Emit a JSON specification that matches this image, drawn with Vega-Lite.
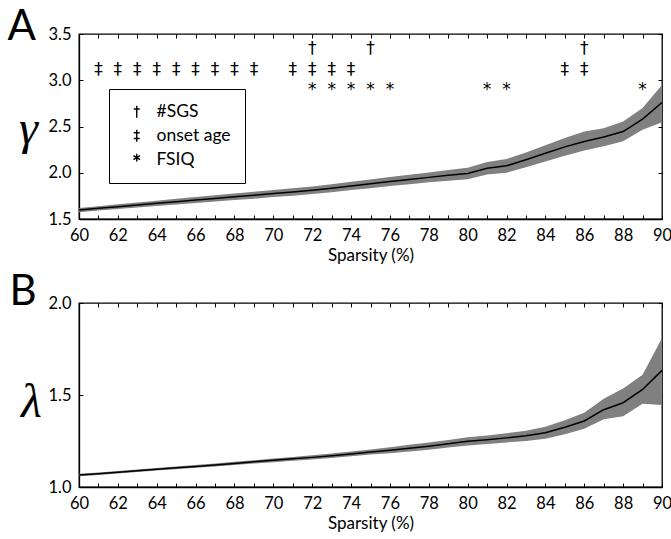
{
  "$schema": "https://vega.github.io/schema/vega-lite/v6.json",
  "padding": {"left": 6, "top": 5, "right": 2, "bottom": 5},
  "spacing": 5,
  "datasets": {
    "gamma": [
      {"x": 60, "mean": 1.597, "lo": 1.574, "hi": 1.620},
      {"x": 61, "mean": 1.615, "lo": 1.591, "hi": 1.639},
      {"x": 62, "mean": 1.633, "lo": 1.607, "hi": 1.659},
      {"x": 63, "mean": 1.651, "lo": 1.624, "hi": 1.678},
      {"x": 64, "mean": 1.669, "lo": 1.640, "hi": 1.698},
      {"x": 65, "mean": 1.687, "lo": 1.656, "hi": 1.718},
      {"x": 66, "mean": 1.705, "lo": 1.673, "hi": 1.737},
      {"x": 67, "mean": 1.722, "lo": 1.688, "hi": 1.756},
      {"x": 68, "mean": 1.740, "lo": 1.705, "hi": 1.775},
      {"x": 69, "mean": 1.757, "lo": 1.720, "hi": 1.794},
      {"x": 70, "mean": 1.775, "lo": 1.737, "hi": 1.813},
      {"x": 71, "mean": 1.792, "lo": 1.752, "hi": 1.832},
      {"x": 72, "mean": 1.810, "lo": 1.769, "hi": 1.851},
      {"x": 73, "mean": 1.832, "lo": 1.789, "hi": 1.875},
      {"x": 74, "mean": 1.858, "lo": 1.813, "hi": 1.903},
      {"x": 75, "mean": 1.880, "lo": 1.833, "hi": 1.927},
      {"x": 76, "mean": 1.905, "lo": 1.856, "hi": 1.954},
      {"x": 77, "mean": 1.928, "lo": 1.877, "hi": 1.979},
      {"x": 78, "mean": 1.950, "lo": 1.896, "hi": 2.004},
      {"x": 79, "mean": 1.972, "lo": 1.914, "hi": 2.030},
      {"x": 80, "mean": 1.992, "lo": 1.930, "hi": 2.054},
      {"x": 81, "mean": 2.048, "lo": 1.980, "hi": 2.116},
      {"x": 82, "mean": 2.075, "lo": 2.001, "hi": 2.149},
      {"x": 83, "mean": 2.140, "lo": 2.060, "hi": 2.220},
      {"x": 84, "mean": 2.210, "lo": 2.122, "hi": 2.298},
      {"x": 85, "mean": 2.280, "lo": 2.185, "hi": 2.375},
      {"x": 86, "mean": 2.337, "lo": 2.240, "hi": 2.447},
      {"x": 87, "mean": 2.386, "lo": 2.286, "hi": 2.480},
      {"x": 88, "mean": 2.445, "lo": 2.340, "hi": 2.553},
      {"x": 89, "mean": 2.580, "lo": 2.465, "hi": 2.700},
      {"x": 90, "mean": 2.760, "lo": 2.545, "hi": 2.950}
    ],
    "lambda": [
      {"x": 60, "mean": 1.065, "lo": 1.058, "hi": 1.072},
      {"x": 61, "mean": 1.072, "lo": 1.065, "hi": 1.079},
      {"x": 62, "mean": 1.080, "lo": 1.073, "hi": 1.087},
      {"x": 63, "mean": 1.088, "lo": 1.081, "hi": 1.095},
      {"x": 64, "mean": 1.096, "lo": 1.089, "hi": 1.103},
      {"x": 65, "mean": 1.104, "lo": 1.096, "hi": 1.112},
      {"x": 66, "mean": 1.112, "lo": 1.104, "hi": 1.120},
      {"x": 67, "mean": 1.120, "lo": 1.112, "hi": 1.128},
      {"x": 68, "mean": 1.128, "lo": 1.119, "hi": 1.137},
      {"x": 69, "mean": 1.137, "lo": 1.128, "hi": 1.146},
      {"x": 70, "mean": 1.145, "lo": 1.135, "hi": 1.155},
      {"x": 71, "mean": 1.153, "lo": 1.143, "hi": 1.163},
      {"x": 72, "mean": 1.161, "lo": 1.150, "hi": 1.172},
      {"x": 73, "mean": 1.170, "lo": 1.158, "hi": 1.182},
      {"x": 74, "mean": 1.180, "lo": 1.167, "hi": 1.193},
      {"x": 75, "mean": 1.190, "lo": 1.176, "hi": 1.204},
      {"x": 76, "mean": 1.200, "lo": 1.184, "hi": 1.216},
      {"x": 77, "mean": 1.211, "lo": 1.193, "hi": 1.229},
      {"x": 78, "mean": 1.222, "lo": 1.202, "hi": 1.242},
      {"x": 79, "mean": 1.235, "lo": 1.214, "hi": 1.256},
      {"x": 80, "mean": 1.248, "lo": 1.226, "hi": 1.270},
      {"x": 81, "mean": 1.257, "lo": 1.234, "hi": 1.280},
      {"x": 82, "mean": 1.267, "lo": 1.242, "hi": 1.292},
      {"x": 83, "mean": 1.278, "lo": 1.250, "hi": 1.306},
      {"x": 84, "mean": 1.295, "lo": 1.262, "hi": 1.328},
      {"x": 85, "mean": 1.325, "lo": 1.287, "hi": 1.363},
      {"x": 86, "mean": 1.359, "lo": 1.317, "hi": 1.404},
      {"x": 87, "mean": 1.420, "lo": 1.368, "hi": 1.480},
      {"x": 88, "mean": 1.458, "lo": 1.385, "hi": 1.535},
      {"x": 89, "mean": 1.530, "lo": 1.452, "hi": 1.610},
      {"x": 90, "mean": 1.634, "lo": 1.446, "hi": 1.810}
    ],
    "marks": [
      {"x": 72, "test": "#SGS", "sym": "†"},
      {"x": 75, "test": "#SGS", "sym": "†"},
      {"x": 86, "test": "#SGS", "sym": "†"},
      {"x": 61, "test": "onset age", "sym": "‡"},
      {"x": 62, "test": "onset age", "sym": "‡"},
      {"x": 63, "test": "onset age", "sym": "‡"},
      {"x": 64, "test": "onset age", "sym": "‡"},
      {"x": 65, "test": "onset age", "sym": "‡"},
      {"x": 66, "test": "onset age", "sym": "‡"},
      {"x": 67, "test": "onset age", "sym": "‡"},
      {"x": 68, "test": "onset age", "sym": "‡"},
      {"x": 69, "test": "onset age", "sym": "‡"},
      {"x": 71, "test": "onset age", "sym": "‡"},
      {"x": 72, "test": "onset age", "sym": "‡"},
      {"x": 73, "test": "onset age", "sym": "‡"},
      {"x": 74, "test": "onset age", "sym": "‡"},
      {"x": 85, "test": "onset age", "sym": "‡"},
      {"x": 86, "test": "onset age", "sym": "‡"},
      {"x": 72, "test": "FSIQ", "sym": "*"},
      {"x": 73, "test": "FSIQ", "sym": "*"},
      {"x": 74, "test": "FSIQ", "sym": "*"},
      {"x": 75, "test": "FSIQ", "sym": "*"},
      {"x": 76, "test": "FSIQ", "sym": "*"},
      {"x": 81, "test": "FSIQ", "sym": "*"},
      {"x": 82, "test": "FSIQ", "sym": "*"},
      {"x": 89, "test": "FSIQ", "sym": "*"}
    ]
  },
  "vconcat": [
    {
      "width": 583,
      "height": 185,
      "title": {"text": "A", "anchor": "start", "frame": "bounds", "fontSize": 42, "font": "Lato", "fontWeight": "normal", "baseline": "alphabetic", "offset": -56, "dx": -11, "color": "black"},
      "resolve": {"scale": {"y": "independent"}, "axis": {"x": "independent", "y": "independent"}},
      "layer": [
        {
          "data": {"name": "gamma"},
          "mark": {"type": "area", "color": "#808080", "opacity": 1},
          "encoding": {
            "x": {"field": "x", "type": "quantitative", "scale": {"domain": [60, 90], "nice": false},
              "axis": {"orient": "bottom", "values": [60,61,62,63,64,65,66,67,68,69,70,71,72,73,74,75,76,77,78,79,80,81,82,83,84,85,86,87,88,89,90], "format": "d", "labelExpr": "datum.value % 2 === 0 ? datum.label : ''", "title": "Sparsity (%)"}},
            "y": {"field": "lo", "type": "quantitative", "scale": {"domain": [1.5, 3.5], "nice": false, "zero": false},
              "axis": {"orient": "left", "values": [1.5, 2, 2.5, 3, 3.5], "format": ".1f", "title": "γ", "titleAngle": 0, "titleFont": "Liberation Serif", "titleFontStyle": "italic", "titleFontSize": 48, "titleX": -51, "titleY": 109, "titleAlign": "center", "titleBaseline": "alphabetic"}},
            "y2": {"field": "hi"}
          }
        },
        {
          "data": {"name": "gamma"},
          "mark": {"type": "line", "color": "black", "strokeWidth": 1.5},
          "encoding": {
            "x": {"field": "x", "type": "quantitative", "scale": {"domain": [60, 90], "nice": false},
              "axis": {"orient": "top", "values": [60,61,62,63,64,65,66,67,68,69,70,71,72,73,74,75,76,77,78,79,80,81,82,83,84,85,86,87,88,89,90], "labels": false, "domain": false, "title": null}},
            "y": {"field": "mean", "type": "quantitative", "scale": {"domain": [1.5, 3.5], "nice": false, "zero": false},
              "axis": {"orient": "right", "values": [1.5, 2, 2.5, 3, 3.5], "labels": false, "domain": false, "title": null}}
          }
        },
        {
          "data": {"name": "marks"},
          "mark": {"type": "text", "font": "DejaVu Sans", "fontSize": 17, "color": "black", "baseline": "middle", "align": "center"},
          "encoding": {
            "x": {"field": "x", "type": "quantitative", "scale": {"domain": [60, 90], "nice": false}, "axis": null},
            "y": {"field": "test", "type": "nominal", "scale": {"type": "point", "domain": ["#SGS", "onset age", "FSIQ"], "range": [15, 56], "padding": 0}, "axis": null},
            "text": {"field": "sym"}
          }
        },
        {
          "data": {"name": "marks"},
          "mark": {"type": "point", "filled": false, "stroke": "black", "strokeWidth": 1.4, "opacity": 0},
          "encoding": {
            "shape": {"field": "test", "type": "nominal",
              "scale": {"domain": ["#SGS", "onset age", "FSIQ"], "range": ["M0,-1L0,1M-0.5,-0.45L0.5,-0.45", "M0,-1L0,1M-0.5,-0.5L0.5,-0.5M-0.5,0.45L0.5,0.45", "M0,-1L0,0.3M-0.55,-0.68L0.55,-0.02M-0.55,-0.02L0.55,-0.68"]},
              "legend": {"orient": "none", "legendX": 30, "legendY": 55, "title": null, "strokeColor": "black", "fillColor": "white", "padding": 14, "symbolSize": 144, "symbolStrokeColor": "black", "symbolStrokeWidth": 1.4, "symbolFillColor": "transparent", "labelFont": "Lato", "labelFontSize": 17.5, "labelColor": "black", "labelOffset": 11, "symbolOffset": 5, "rowPadding": 5}}
          }
        }
      ]
    },
    {
      "width": 583,
      "height": 184,
      "title": {"text": "B", "anchor": "start", "frame": "bounds", "fontSize": 42, "font": "Lato", "fontWeight": "normal", "baseline": "alphabetic", "offset": -52, "dx": -11, "color": "black"},
      "resolve": {"axis": {"x": "independent", "y": "independent"}},
      "layer": [
        {
          "data": {"name": "lambda"},
          "mark": {"type": "area", "color": "#808080", "opacity": 1},
          "encoding": {
            "x": {"field": "x", "type": "quantitative", "scale": {"domain": [60, 90], "nice": false},
              "axis": {"orient": "bottom", "values": [60,61,62,63,64,65,66,67,68,69,70,71,72,73,74,75,76,77,78,79,80,81,82,83,84,85,86,87,88,89,90], "format": "d", "labelExpr": "datum.value % 2 === 0 ? datum.label : ''", "title": "Sparsity (%)"}},
            "y": {"field": "lo", "type": "quantitative", "scale": {"domain": [1.0, 2.0], "nice": false, "zero": false},
              "axis": {"orient": "left", "values": [1.0, 1.5, 2.0], "format": ".1f", "title": "λ", "titleAngle": 0, "titleFont": "Liberation Serif", "titleFontStyle": "italic", "titleFontSize": 48, "titleX": -48, "titleY": 113, "titleAlign": "center", "titleBaseline": "alphabetic"}},
            "y2": {"field": "hi"}
          }
        },
        {
          "data": {"name": "lambda"},
          "mark": {"type": "line", "color": "black", "strokeWidth": 1.5},
          "encoding": {
            "x": {"field": "x", "type": "quantitative", "scale": {"domain": [60, 90], "nice": false},
              "axis": {"orient": "top", "values": [60,61,62,63,64,65,66,67,68,69,70,71,72,73,74,75,76,77,78,79,80,81,82,83,84,85,86,87,88,89,90], "labels": false, "domain": false, "title": null}},
            "y": {"field": "mean", "type": "quantitative", "scale": {"domain": [1.0, 2.0], "nice": false, "zero": false},
              "axis": {"orient": "right", "values": [1.0, 1.5, 2.0], "labels": false, "domain": false, "title": null}}
          }
        }
      ]
    }
  ],
  "config": {
    "font": "Lato",
    "view": {"stroke": "black", "strokeWidth": 1.3},
    "axis": {"grid": false, "labelFont": "Lato", "labelFontSize": 16.5, "labelColor": "black", "tickColor": "black", "tickSize": -4, "tickWidth": 1, "domainColor": "black", "domainWidth": 1.3, "labelPadding": 12, "titleFont": "Lato", "titleFontSize": 17, "titleFontWeight": "normal", "titleColor": "black", "titlePadding": 4, "labelFlush": false}
  }
}
